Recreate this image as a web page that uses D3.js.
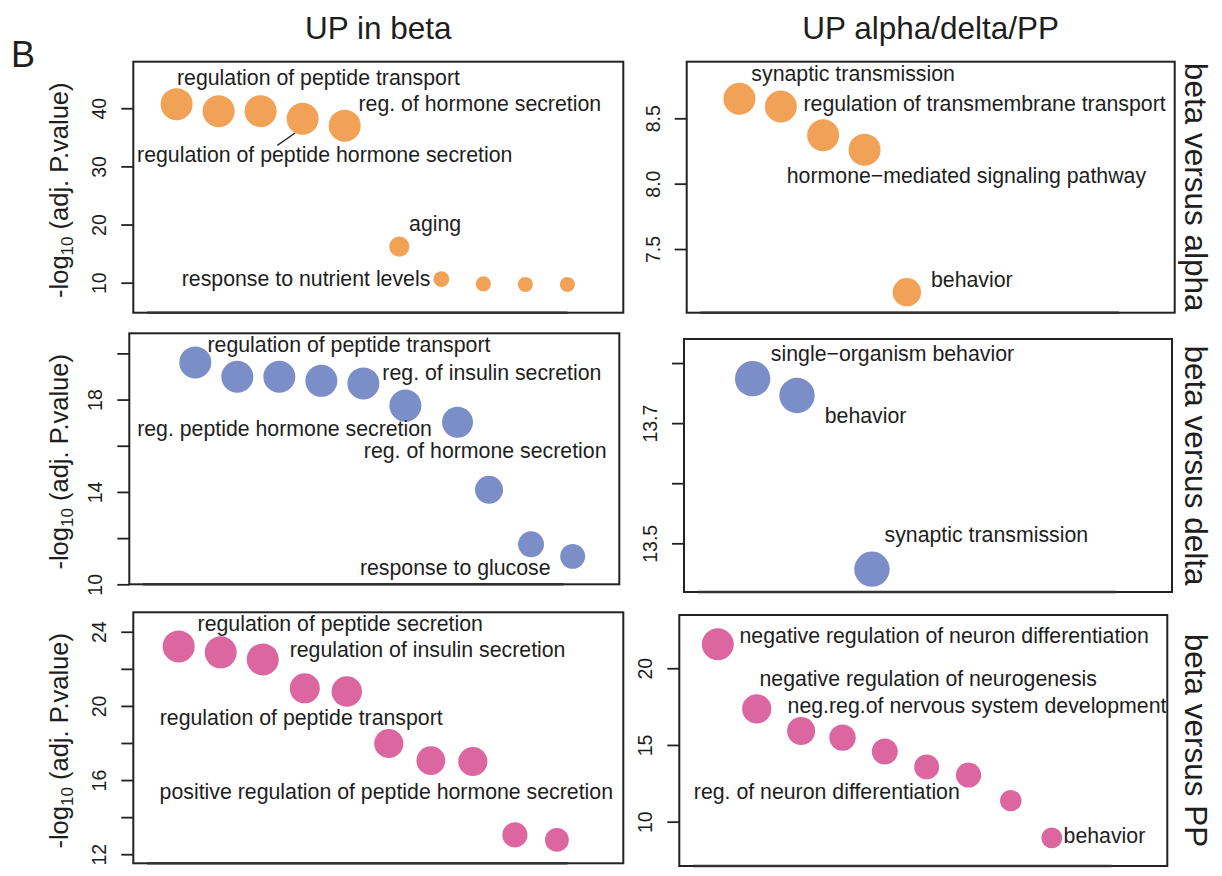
<!DOCTYPE html>
<html>
<head>
<meta charset="utf-8">
<script src="https://cdn.jsdelivr.net/npm/d3@7"></script>
<style>
body { margin: 0; background: #fff; }
text { font-family: "Liberation Sans", Arial, Helvetica, sans-serif; fill: #1e1e1e; }
</style>
</head>
<body>
<svg width="1222" height="876"></svg>
<script>
// column / row headers
var columnTitles = ["UP in beta", "UP alpha/delta/PP"];
var rowTitles = ["beta versus alpha", "beta versus delta", "beta versus PP"];

// UP in beta, beta versus alpha
var betaAlphaUpBetaRank = [0.7, 1.7, 2.7, 3.7, 4.7, 6, 7, 8, 9, 10];
var betaAlphaUpBetaLogP = [40.7, 39.5, 39.5, 38.2, 37.0, 16.2, 10.6, 9.8, 9.7, 9.7];
var betaAlphaUpBetaGenes = [94, 94, 94, 94, 94, 37, 23, 21, 21, 21];
var betaAlphaUpBetaTerms = ["regulation of peptide transport", "reg. of hormone secretion",
  "regulation of peptide hormone secretion", "aging", "response to nutrient levels"];
var betaAlphaUpBetaTermAt = [0, 4, 3, 5, 6];
var betaAlphaUpBetaTicks = [10, 20, 30, 40];

// UP in alpha, beta versus alpha
var betaAlphaUpOtherRank = [0.93, 1.92, 2.93, 3.92, 4.93];
var betaAlphaUpOtherLogP = [8.65, 8.59, 8.37, 8.26, 7.17];
var betaAlphaUpOtherGenes = [94, 94, 94, 94, 74];
var betaAlphaUpOtherTerms = ["synaptic transmission", "regulation of transmembrane transport",
  "hormone\u2212mediated signaling pathway", "behavior"];
var betaAlphaUpOtherTermAt = [0, 1, 3, 4];
var betaAlphaUpOtherTicks = [7.5, 8.0, 8.5];

// UP in beta, beta versus delta
var betaDeltaUpBetaRank = [1.24, 2.24, 3.24, 4.24, 5.24, 6.24, 7.48, 8.23, 9.23, 10.22];
var betaDeltaUpBetaLogP = [19.61, 18.99, 18.99, 18.81, 18.70, 17.74, 17.02, 14.09, 11.73, 11.21];
var betaDeltaUpBetaGenes = [94, 94, 94, 94, 94, 94, 88, 72, 62, 57];
var betaDeltaUpBetaTerms = ["regulation of peptide transport", "reg. of insulin secretion",
  "reg. peptide hormone secretion", "reg. of hormone secretion", "response to glucose"];
var betaDeltaUpBetaTermAt = [0, 4, 2, 6, 8];
var betaDeltaUpBetaTicks = [10, 12, 14, 16, 18, 20];
var betaDeltaUpBetaTickLabels = [10, 14, 18];

// UP in delta, beta versus delta
var betaDeltaUpOtherRank = [1.31, 2.37, 4.16];
var betaDeltaUpOtherLogP = [13.774, 13.746, 13.457];
var betaDeltaUpOtherGenes = [115, 115, 115];
var betaDeltaUpOtherTerms = ["single\u2212organism behavior", "behavior", "synaptic transmission"];
var betaDeltaUpOtherTermAt = [0, 1, 2];
var betaDeltaUpOtherTicks = [13.5, 13.6, 13.7, 13.8];
var betaDeltaUpOtherTickLabels = [13.5, 13.7];

// UP in beta, beta versus PP
var betaPPUpBetaRank = [0.75, 1.75, 2.75, 3.75, 4.75, 5.75, 6.75, 7.75, 8.75, 9.75];
var betaPPUpBetaLogP = [23.21, 22.89, 22.51, 20.95, 20.78, 17.97, 17.05, 17.0, 13.04, 12.77];
var betaPPUpBetaGenes = [94, 94, 94, 83, 85, 78, 76, 78, 58, 52];
var betaPPUpBetaTerms = ["regulation of peptide secretion", "regulation of insulin secretion",
  "regulation of peptide transport", "positive regulation of peptide hormone secretion"];
var betaPPUpBetaTermAt = [0, 2, 3, 5];
var betaPPUpBetaTicks = [12, 14, 16, 18, 20, 22, 24];
var betaPPUpBetaTickLabels = [12, 16, 20, 24];

// UP in PP, beta versus PP
var betaPPUpOtherRank = [0.59, 1.52, 2.58, 3.57, 4.58, 5.58, 6.58, 7.59, 8.57];
var betaPPUpOtherLogP = [21.56, 17.35, 15.91, 15.48, 14.57, 13.57, 13.04, 11.37, 8.94];
var betaPPUpOtherGenes = [94, 78, 72, 64, 62, 57, 58, 42, 40];
var betaPPUpOtherTerms = ["negative regulation of neuron differentiation", "negative regulation of neurogenesis",
  "neg.reg.of nervous system development", "reg. of neuron differentiation", "behavior"];
var betaPPUpOtherTermAt = [0, 1, 2, 6, 8];
var betaPPUpOtherTicks = [10, 15, 20];

var svg = d3.select("svg");
svg.append("rect").attr("width", 1222).attr("height", 876).attr("fill", "#fff");

var orange = "#F1A257", blue = "#7C8EC8", pink = "#DC66A0";
var size = d3.scaleSqrt().domain([0, 100]).range([0, 16.5]);

function zip(rank, logp, genes) {
  return rank.map(function (r, i) { return { rank: r, logp: logp[i], genes: genes[i] }; });
}

var panels = [
  { pts: zip(betaAlphaUpBetaRank, betaAlphaUpBetaLogP, betaAlphaUpBetaGenes),
    terms: betaAlphaUpBetaTerms, termAt: betaAlphaUpBetaTermAt, color: orange,
    box: [133.3, 61.7, 490, 251], yDomain: [4.84, 48.0],
    ticks: betaAlphaUpBetaTicks, tickLabels: betaAlphaUpBetaTicks, fmt: d3.format("d"),
    offsets: [[0.4, -19], [13.8, -15], [-165.6, 43.7], [9.8, -15.3], [-259.6, 6.7]],
    leader: { term: 2, from: [-7.5, 14.3], to: [-25.3, 26.7] } },
  { pts: zip(betaAlphaUpOtherRank, betaAlphaUpOtherLogP, betaAlphaUpOtherGenes),
    terms: betaAlphaUpOtherTerms, termAt: betaAlphaUpOtherTermAt, color: orange,
    box: [686.7, 61.7, 488, 251], yDomain: [7.013, 8.933],
    ticks: betaAlphaUpOtherTicks, tickLabels: betaAlphaUpOtherTicks, fmt: d3.format(".1f"),
    offsets: [[11.9, -17.7], [22.6, 4], [-77.8, 33.3], [24.1, -5]] },
  { pts: zip(betaDeltaUpBetaRank, betaDeltaUpBetaLogP, betaDeltaUpBetaGenes),
    terms: betaDeltaUpBetaTerms, termAt: betaDeltaUpBetaTermAt, color: blue,
    box: [129.3, 333.3, 490, 251], yDomain: [10, 20.87],
    ticks: betaDeltaUpBetaTicks, tickLabels: betaDeltaUpBetaTickLabels, fmt: d3.format("d"),
    offsets: [[12.2, -10.6], [19, -3.3], [-142.2, 59.3], [-93.7, 35.7], [-171.1, 31]] },
  { pts: zip(betaDeltaUpOtherRank, betaDeltaUpOtherLogP, betaDeltaUpOtherGenes),
    terms: betaDeltaUpOtherTerms, termAt: betaDeltaUpOtherTermAt, color: blue,
    box: [684, 339, 488, 253], yDomain: [13.419, 13.840],
    ticks: betaDeltaUpOtherTicks, tickLabels: betaDeltaUpOtherTickLabels, fmt: d3.format(".1f"),
    offsets: [[18.2, -17.3], [27.7, 27.6], [12.6, -27.3]] },
  { pts: zip(betaPPUpBetaRank, betaPPUpBetaLogP, betaPPUpBetaGenes),
    terms: betaPPUpBetaTerms, termAt: betaPPUpBetaTermAt, color: pink,
    box: [133.3, 612.3, 490, 251], yDomain: [11.51, 25.05],
    ticks: betaPPUpBetaTicks, tickLabels: betaPPUpBetaTickLabels, fmt: d3.format("d"),
    offsets: [[18.9, -15.6], [26.9, -2], [-145, 36.6], [-229.2, 55.7]] },
  { pts: zip(betaPPUpOtherRank, betaPPUpOtherLogP, betaPPUpOtherGenes),
    terms: betaPPUpOtherTerms, termAt: betaPPUpOtherTermAt, color: pink,
    box: [679.3, 615, 488, 251], yDomain: [7.11, 23.47],
    ticks: betaPPUpOtherTicks, tickLabels: betaPPUpOtherTicks, fmt: d3.format("d"),
    offsets: [[21.7, -1.6], [2.8, -23.3], [-13.5, -18.4], [-274.7, 23.6], [11.8, 4.7]] }
];

panels.forEach(function (p, k) {
  var bx = p.box[0], by = p.box[1], bw = p.box[2], bh = p.box[3];
  var x = d3.scaleLinear().domain([-0.33, 11.33]).range([bx, bx + bw]);
  var y = d3.scaleLinear().domain(p.yDomain).range([by + bh, by]);
  var g = svg.append("g");

  // y axis, rotated tick labels like base R
  var axis = d3.axisLeft(y)
      .tickValues(p.ticks)
      .tickSize(12)
      .tickFormat(function (d) { return p.tickLabels.indexOf(d) >= 0 ? p.fmt(d) : ""; });
  var ax = g.append("g")
      .attr("transform", "translate(" + bx + ",0)")
      .call(axis);
  ax.select(".domain").remove();
  ax.selectAll(".tick line").attr("stroke", "#222").attr("stroke-width", 1.8);
  ax.selectAll(".tick text")
      .attr("x", null)
      .attr("transform", "translate(-34,0) rotate(-90)")
      .attr("text-anchor", "middle")
      .attr("dy", "0.36em")
      .style("font-size", "19.5px")
      .style("font-family", "'Liberation Sans', Arial, sans-serif")
      .attr("fill", "#1e1e1e");

  g.append("rect")
      .attr("x", bx).attr("y", by)
      .attr("width", bw).attr("height", bh)
      .attr("fill", "none")
      .attr("stroke", "#222")
      .attr("stroke-width", 2);

  // x axis line (no ticks)
  g.append("line")
      .attr("x1", x(0)).attr("x2", x(10))
      .attr("y1", by + bh).attr("y2", by + bh)
      .attr("stroke", "#333")
      .attr("stroke-width", 2.6);

  g.selectAll("circle")
      .data(p.pts)
      .enter().append("circle")
      .attr("cx", function (d) { return x(d.rank); })
      .attr("cy", function (d) { return y(d.logp); })
      .attr("r", function (d) { return size(d.genes); })
      .attr("fill", p.color);

  p.terms.forEach(function (t, i) {
    var pt = p.pts[p.termAt[i]];
    g.append("text")
        .attr("x", x(pt.rank) + p.offsets[i][0])
        .attr("y", y(pt.logp) + p.offsets[i][1])
        .style("font-size", "21.3px")
        .text(t);
  });

  if (p.leader) {
    var lp = p.pts[p.termAt[p.leader.term]];
    g.append("line")
        .attr("x1", x(lp.rank) + p.leader.from[0]).attr("y1", y(lp.logp) + p.leader.from[1])
        .attr("x2", x(lp.rank) + p.leader.to[0]).attr("y2", y(lp.logp) + p.leader.to[1])
        .attr("stroke", "#222")
        .attr("stroke-width", 1.3);
  }

  var row = Math.floor(k / 2), col = k % 2;
  if (col === 0) {
    var yt = svg.append("text")
        .attr("transform", "translate(68," + (by + bh / 2 + 3) + ") rotate(-90)")
        .attr("text-anchor", "middle")
        .style("font-size", "25.5px");
    yt.append("tspan").text("-log");
    yt.append("tspan").attr("dy", 5).style("font-size", "17px").text("10");
    yt.append("tspan").attr("dy", -5).text(" (adj. P.value)");
  } else {
    svg.append("text")
        .attr("transform", "translate(1196," + (by + bh / 2) + ") rotate(90)")
        .attr("text-anchor", "middle")
        .attr("dy", "0.35em")
        .style("font-size", "31.5px")
        .text(rowTitles[row]);
  }
  if (row === 0) {
    svg.append("text")
        .attr("x", bx + bw / 2)
        .attr("y", 39)
        .attr("text-anchor", "middle")
        .style("font-size", "31.5px")
        .text(columnTitles[col]);
  }
});

svg.append("text")
    .attr("x", 11)
    .attr("y", 67)
    .style("font-size", "36px")
    .text("B");
</script>
</body>
</html>
